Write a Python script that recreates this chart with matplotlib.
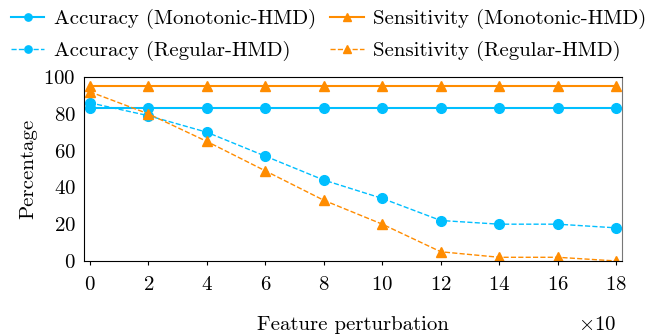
import matplotlib
matplotlib.use("Agg")
import matplotlib.pyplot as plt

plt.rcParams['font.family'] = ['cmr10']
plt.rcParams['mathtext.fontset'] = 'cm'
plt.rcParams['axes.unicode_minus'] = False
plt.rcParams['axes.formatter.use_mathtext'] = True

perturbation = [0, 2, 4, 6, 8, 10, 12, 14, 16, 18]
acc_mono = [83, 83, 83, 83, 83, 83, 83, 83, 83, 83]
sens_mono = [95, 95, 95, 95, 95, 95, 95, 95, 95, 95]
acc_reg = [86, 79, 70, 57, 44, 34, 22, 20, 20, 18]
sens_reg = [92, 80, 65, 49, 33, 20, 5, 2, 2, 0]

blue = '#00BFFF'
orange = '#FF8C00'

fig = plt.figure(figsize=(6.46, 3.35), dpi=100)
ax = fig.add_axes([0.130, 0.221, 0.833, 0.549])

l1, = ax.plot(perturbation, acc_mono, '-', color=blue, marker='o', ms=7, lw=1.5, label='Accuracy (Monotonic-HMD)')
l2, = ax.plot(perturbation, sens_mono, '-', color=orange, marker='^', ms=7, lw=1.5, label='Sensitivity (Monotonic-HMD)')
l3, = ax.plot(perturbation, acc_reg, '--', color=blue, marker='o', ms=7, lw=1.0, label='Accuracy (Regular-HMD)')
l4, = ax.plot(perturbation, sens_reg, '--', color=orange, marker='^', ms=7, lw=1.0, label='Sensitivity (Regular-HMD)')

ax.set_xlim(-0.2, 18.2)
ax.set_ylim(0, 100)
ax.set_xticks(perturbation)
ax.set_yticks([0, 20, 40, 60, 80, 100])
ax.tick_params(axis='both', labelsize=15)
ax.tick_params(axis='y', length=0, pad=6)
ax.tick_params(axis='x', length=3, pad=8)
ax.spines['right'].set_color('#777777')
ax.set_ylabel('Percentage', fontsize=15)
ax.set_xlabel('Feature perturbation', fontsize=15, labelpad=16)
fig.text(0.924, 0.03, r'$\times10$', fontsize=15, ha='center', va='center')

handles = [l1, l3, l2, l4]
fig.legend(handles, [h.get_label() for h in handles], loc='upper left', bbox_to_anchor=(-0.012, 1.028),
           ncol=2, frameon=False, fontsize=15, handlelength=1.6, columnspacing=0.7,
           handletextpad=0.45, labelspacing=0.55, markerscale=0.75)

fig.savefig('out.png', dpi=100)
